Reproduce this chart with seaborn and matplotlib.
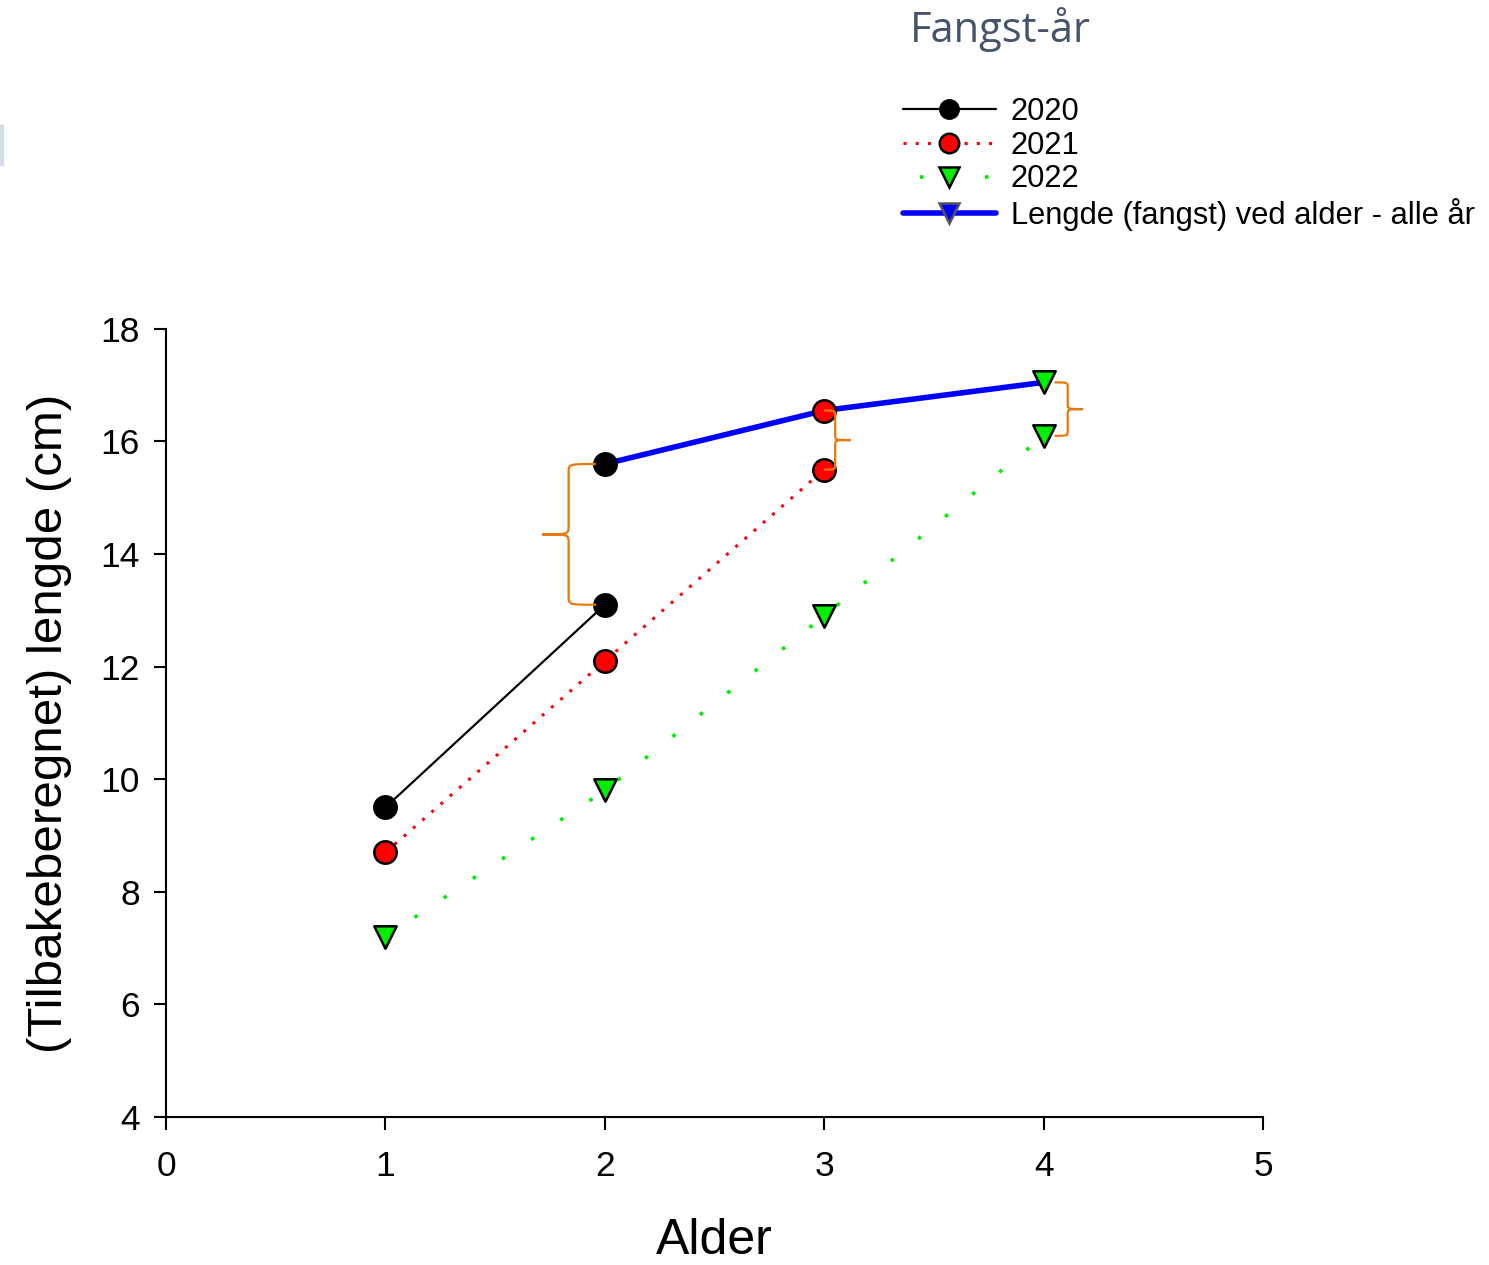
import numpy as np
import matplotlib
matplotlib.use("Agg")
import matplotlib.pyplot as plt
import seaborn as sns
from matplotlib.path import Path
from matplotlib.patches import PathPatch, Rectangle
from matplotlib.lines import Line2D

# back-calculated length at age, per catch year
age_2020 = [1, 2]
len_2020 = [9.5, 13.1]
age_2021 = [1, 2, 3]
len_2021 = [8.7, 12.1, 15.5]
age_2022 = [1, 2, 3, 4]
len_2022 = [7.2, 9.8, 12.9, 16.1]

# length at catch (all years)
catch_age = [2, 3, 4]
catch_len = [15.6, 16.55, 17.05]

years = ["2020", "2021", "2022"]
x_ticks = [0, 1, 2, 3, 4, 5]
y_ticks = [4, 6, 8, 10, 12, 14, 16, 18]

sns.set_style("ticks", {"axes.edgecolor": "black", "text.color": "black",
                        "xtick.color": "black", "ytick.color": "black",
                        "axes.labelcolor": "black"})
plt.rcParams['font.family'] = ['Liberation Sans', 'DejaVu Sans']

fig = plt.figure(figsize=(14.89, 12.65), dpi=100)
ax = fig.add_axes([0.1115, 0.117, 0.7367, 0.623])

green_dots = (0, (1, 8.7))
red_dots = (0, (1, 3.0))

# catch length line (under the markers)
sns.lineplot(x=catch_age, y=catch_len, ax=ax, color="#0000ff", lw=4, zorder=2)

sns.lineplot(x=age_2020, y=len_2020, ax=ax, color="black", lw=1.6, zorder=3)
sns.lineplot(x=age_2021, y=len_2021, ax=ax, color="red", lw=2.2, linestyle=red_dots, zorder=3)
sns.lineplot(x=age_2022, y=len_2022, ax=ax, color="#00ee00", lw=2.6, linestyle=green_dots, zorder=3)

mk = dict(s=260, edgecolor="black", linewidth=1.8, zorder=5)
sns.scatterplot(x=age_2020 + [catch_age[0]], y=len_2020 + [catch_len[0]], ax=ax,
                color="black", marker="o", **mk)
sns.scatterplot(x=age_2021 + [catch_age[1]], y=len_2021 + [catch_len[1]], ax=ax,
                color="red", marker="o", **mk)
sns.scatterplot(x=age_2022 + [catch_age[2]], y=len_2022 + [catch_len[2]], ax=ax,
                color="#00ee00", marker="v", **mk)


def brace(ax, x0, y_lo, y_hi, w, tip, r=0.15):
    # w < 0 -> brace opens to the right (tip on the left)
    xs = x0 + w
    xt = xs + tip
    ym = (y_lo + y_hi) / 2
    verts = [(x0, y_hi), (xs, y_hi), (xs, y_hi), (xs, y_hi - r),
             (xs, ym + r),
             (xs, ym), (xs, ym), (xt, ym),
             (xs, ym), (xs, ym), (xs, ym - r),
             (xs, y_lo + r),
             (xs, y_lo), (xs, y_lo), (x0, y_lo)]
    codes = [Path.MOVETO, Path.CURVE4, Path.CURVE4, Path.CURVE4,
             Path.LINETO,
             Path.CURVE4, Path.CURVE4, Path.CURVE4,
             Path.CURVE4, Path.CURVE4, Path.CURVE4,
             Path.LINETO,
             Path.CURVE4, Path.CURVE4, Path.CURVE4]
    ax.add_patch(PathPatch(Path(verts, codes), fill=False, edgecolor="#e8780c",
                           lw=1.6, zorder=6, capstyle="butt"))


brace(ax, catch_age[0] - 0.04, len_2020[-1], catch_len[0], -0.125, -0.12)
brace(ax, catch_age[1], len_2021[-1], catch_len[1], 0.05, 0.07, r=0.1)
brace(ax, catch_age[2] + 0.05, len_2022[-1], catch_len[2], 0.06, 0.07, r=0.1)

ax.set_xlim(0, 5)
ax.set_ylim(4, 18)
ax.set_xticks(x_ticks)
ax.set_yticks(y_ticks)
ax.tick_params(labelsize=25.5, length=9, width=1.5, direction="out")
ax.tick_params(axis="x", pad=15)
ax.tick_params(axis="y", pad=10)
for s in ["left", "bottom"]:
    ax.spines[s].set_linewidth(1.5)
sns.despine(ax=ax)
ax.set_xlabel("Alder", fontsize=36, labelpad=25)
ax.set_ylabel("(Tilbakeberegnet) lengde (cm)", fontsize=35.5, labelpad=20)

handles = [
    Line2D([], [], color="black", lw=1.6, marker="o", markersize=14,
           markerfacecolor="black", markeredgecolor="black"),
    Line2D([], [], color="red", lw=2.2, linestyle=red_dots, marker="o", markersize=14,
           markerfacecolor="red", markeredgecolor="black", markeredgewidth=1.8),
    Line2D([], [], color="#00ee00", lw=2.6, linestyle=(13.3, (1, 17)), marker="v", markersize=14,
           markerfacecolor="#00ee00", markeredgecolor="black", markeredgewidth=1.8),
    Line2D([], [], color="#0000ff", lw=4, marker="v", markersize=14,
           markerfacecolor="#0000ff", markeredgecolor="#555555", markeredgewidth=1.8),
]
labels = years + ["Lengde (fangst) ved alder - alle år"]
fig.legend(handles, labels, loc="upper left", bbox_to_anchor=(903 / 1489, 1 - 97 / 1265),
           frameon=False, fontsize=22.2, handlelength=3.0, handletextpad=0.5,
           labelspacing=0.12, borderpad=0, borderaxespad=0)
fig.text(1000 / 1489, 1 - 30 / 1265, "Fangst-år", fontsize=30, color="#44546a",
         family=["Open Sans", "DejaVu Sans"], ha="center", va="center")

fig.patches.append(Rectangle((0, 1 - 165 / 1265), 3 / 1489, 40 / 1265,
                             transform=fig.transFigure, color="#d6dde6", figure=fig))

fig.savefig("out.png", dpi=100)
